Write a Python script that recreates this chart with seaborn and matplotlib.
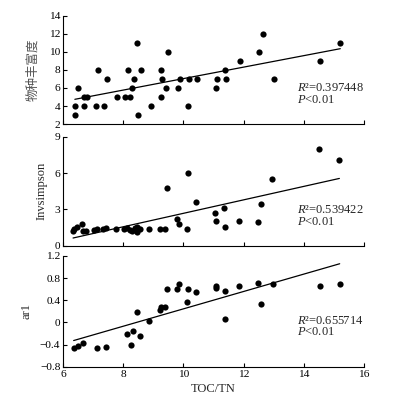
import numpy as np
import pandas as pd
import matplotlib.pyplot as plt
import seaborn as sns

# --- data ---
# species richness vs TOC/TN
rich_x = [6.39, 6.39, 6.51, 6.69, 6.69, 6.80, 7.09, 7.15, 7.36, 7.47,
          7.80, 8.05, 8.16, 8.21, 8.29, 8.36, 8.47, 8.48, 8.59, 8.91,
          9.26, 9.26, 9.28, 9.41, 9.49, 9.82, 9.89, 10.15, 10.19, 10.44,
          11.09, 11.10, 11.39, 11.42, 11.88, 12.51, 12.63, 13.00, 14.55, 15.21]
rich_y = [4, 3, 6, 4, 5, 5, 4, 8, 4, 7,
          5, 5, 8, 5, 6, 7, 11, 3, 8, 4,
          8, 5, 7, 6, 10, 6, 7, 4, 7, 7,
          6, 7, 8, 7, 9, 10, 12, 7, 9, 11]

# inverse simpson
inv_x = [6.33, 6.35, 6.47, 6.64, 6.66, 6.77, 7.04, 7.11, 7.33, 7.44,
         7.77, 8.02, 8.13, 8.21, 8.28, 8.38, 8.44, 8.46, 8.55, 8.87,
         9.21, 9.37, 9.46, 9.77, 9.84, 10.11, 10.15, 10.40, 11.05, 11.07,
         11.35, 11.38, 11.84, 12.47, 12.58, 12.95, 14.50, 15.18]
inv_y = [1.25, 1.39, 1.53, 1.78, 1.25, 1.25, 1.31, 1.36, 1.36, 1.47,
         1.36, 1.36, 1.44, 1.31, 1.25, 1.44, 1.53, 1.17, 1.36, 1.39,
         1.36, 1.36, 4.74, 2.19, 1.78, 1.36, 5.98, 3.59, 2.68, 2.02,
         3.12, 1.58, 2.05, 1.97, 3.45, 5.54, 7.98, 7.08]

# ar1
ar_x = [6.35, 6.48, 6.66, 7.12, 7.44, 8.12, 8.26, 8.31, 8.45, 8.56,
        8.87, 9.21, 9.24, 9.39, 9.46, 9.79, 9.84, 10.12, 10.14, 10.41,
        11.07, 11.07, 11.37, 11.38, 11.85, 12.47, 12.59, 12.98, 14.53, 15.19]
ar_y = [-0.47, -0.43, -0.38, -0.47, -0.44, -0.21, -0.40, -0.16, 0.18, -0.25,
        0.03, 0.22, 0.27, 0.27, 0.61, 0.60, 0.69, 0.36, 0.60, 0.55,
        0.66, 0.62, 0.56, 0.07, 0.66, 0.71, 0.34, 0.69, 0.66, 0.69]

ylabels = ['物种丰富度', 'Invsimpson', 'ar1']
r2_texts = ['0.397448', '0.539422', '0.655714']
ylims = [(2, 14), (0, 9), (-0.8, 1.2)]
yticks = [np.arange(2, 15, 2), [0, 3, 6, 9], np.arange(-0.8, 1.21, 0.4)]
text_y = [(6.0, 4.7), (2.96, 2.0), (0.03, -0.18)]

sns.set_style('ticks')
plt.rcParams['font.family'] = ['Liberation Serif', 'Noto Sans CJK SC']
plt.rcParams['mathtext.fontset'] = 'custom'
plt.rcParams['mathtext.it'] = 'Liberation Serif:italic'
plt.rcParams['mathtext.rm'] = 'Liberation Serif'
plt.rcParams['xtick.direction'] = 'in'
plt.rcParams['ytick.direction'] = 'in'

fig = plt.figure(figsize=(3.97, 4.03), dpi=100)
boxes = [[0.159, 0.692, 0.758, 0.269],
         [0.159, 0.390, 0.758, 0.271],
         [0.159, 0.090, 0.758, 0.275]]

panels = [(rich_x, rich_y), (inv_x, inv_y), (ar_x, ar_y)]

for i, (xs, ys) in enumerate(panels):
    ax = fig.add_axes(boxes[i])
    df = pd.DataFrame({'x': xs, 'y': ys})
    sns.regplot(data=df, x='x', y='y', ax=ax, ci=None, color='black',
                scatter_kws={'s': 20, 'linewidths': 0, 'alpha': 1},
                line_kws={'linewidth': 0.9})
    ax.set_xlim(6, 16)
    ax.set_ylim(*ylims[i])
    ax.set_xticks([6, 8, 10, 12, 14, 16])
    ax.set_yticks(yticks[i])
    if i == 2:
        ax.set_yticklabels(['−0.8', '−0.4', '0', '0.4', '0.8', '1.2'])
        ax.set_xlabel('TOC/TN', fontsize=9, labelpad=3)
    else:
        ax.set_xticklabels([])
        ax.set_xlabel('')
    if i == 0:
        ax.set_ylabel(ylabels[i], fontsize=9, color='#555555',
                      family=['Noto Sans CJK SC'], labelpad=7)
    else:
        ax.set_ylabel(ylabels[i], fontsize=9, labelpad=5)
    ax.tick_params(labelsize=8.2, length=3, width=0.8, pad=2, colors='black')
    for s in ['left', 'bottom']:
        ax.spines[s].set_linewidth(0.8)
        ax.spines[s].set_color('black')
    sns.despine(ax=ax)
    ax.text(13.78, text_y[i][0], r'$R$²=' + r2_texts[i], fontsize=9, va='center')
    ax.text(13.78, text_y[i][1], r'$P$<0.01', fontsize=9, va='center')

fig.savefig('out.png', dpi=100)
